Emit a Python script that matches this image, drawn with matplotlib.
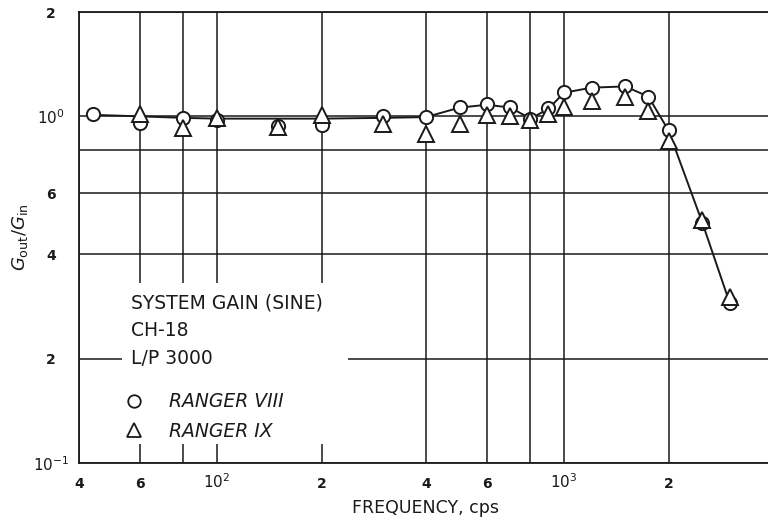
import matplotlib
matplotlib.use("Agg")
import matplotlib.pyplot as plt
from matplotlib.lines import Line2D
from matplotlib.patches import Rectangle
from matplotlib.ticker import NullFormatter

# ---------------------------------------------------------------
# Données
# ---------------------------------------------------------------

# Ranger VIII (cercles)
freq_r8 = [44, 60, 80, 100, 150, 200, 300, 400, 500, 600, 700, 800, 900,
           1000, 1200, 1500, 1750, 2000, 2500, 3000]
gain_r8 = [1.018, 0.954, 0.991, 0.975, 0.935, 0.942, 1.0, 0.995, 1.064, 1.083,
           1.064, 0.985, 1.059, 1.175, 1.21, 1.225, 1.137, 0.911, 0.491, 0.289]

# Ranger IX (triangles)
freq_r9 = [60, 80, 100, 150, 200, 300, 400, 500, 600, 700, 800, 900,
           1000, 1200, 1500, 1750, 2000, 2500, 3000]
gain_r9 = [1.016, 0.928, 0.987, 0.932, 1.007, 0.95, 0.887, 0.953, 1.007, 1.0,
           0.978, 1.013, 1.064, 1.105, 1.137, 1.036, 0.849, 0.502, 0.301]

# courbe moyenne tracée à la main sur l'original
freq_courbe = [44, 60, 80, 100, 150, 200, 300, 400, 500, 600, 700, 800, 900,
               1000, 1200, 1500, 1750, 2000, 2500, 3000]
gain_courbe = [1.01, 1.0, 0.99, 0.985, 0.985, 0.985, 0.99, 0.995, 1.06, 1.08,
               1.06, 0.985, 1.05, 1.17, 1.21, 1.22, 1.14, 0.91, 0.495, 0.29]

# graduations
x_ticks = [40, 60, 100, 200, 400, 600, 1000, 2000, 4000]
x_labels = ["4", "6", "$10^2$", "2", "4", "6", "$10^3$", "2", "4"]
x_minor = [80, 800]
y_ticks = [0.1, 0.2, 0.4, 0.6, 1.0, 2.0]
y_labels = ["$10^{-1}$", "2", "4", "6", "$10^0$", "2"]
y_minor = [0.8]

titre_bloc = ["SYSTEM GAIN (SINE)", "CH-18", "L/P 3000"]
noms_series = ["RANGER VIII", "RANGER IX"]

# ---------------------------------------------------------------
# Figure
# ---------------------------------------------------------------
encre = "#1a1a1a"
fig = plt.figure(figsize=(7.68, 5.19), dpi=100)
ax = fig.add_axes([79 / 768, 56 / 519, 694 / 768, 451 / 519])
ax.set_xscale("log")
ax.set_yscale("log")
ax.set_xlim(40, 4000)
ax.set_ylim(0.1, 2.0)
ax.set_axisbelow(True)

ax.set_xticks(x_ticks, x_labels)
ax.set_xticks(x_minor, minor=True)
ax.set_yticks(y_ticks, y_labels)
ax.set_yticks(y_minor, minor=True)
ax.xaxis.set_minor_formatter(NullFormatter())
ax.yaxis.set_minor_formatter(NullFormatter())
ax.tick_params(which="both", length=0, colors=encre, labelsize=10)
ax.tick_params(axis="x", pad=18)
ax.tick_params(axis="y", pad=20)
for lab in ax.get_xticklabels():
    lab.set_va("baseline")
    if "$" in lab.get_text():
        lab.set_fontsize(11)
    else:
        lab.set_fontweight("bold")
for lab in ax.get_yticklabels():
    lab.set_ha("center")
    if "$" in lab.get_text():
        lab.set_fontsize(11)
    else:
        lab.set_fontweight("bold")

ax.grid(True, which="both", color=encre, lw=1.1)
for sp in ax.spines.values():
    sp.set_color(encre)
    sp.set_linewidth(1.3)

# courbe + points
ax.plot(freq_courbe, gain_courbe, color=encre, lw=1.4, zorder=3)
ax.plot(freq_r8, gain_r8, ls="none", marker="o", ms=9.5, mfc="white",
        mec=encre, mew=1.4, zorder=4)
ax.plot(freq_r9, gain_r9, ls="none", marker="^", ms=11.5, mfc="white",
        mec=encre, mew=1.4, zorder=5)

# bloc de texte (fond blanc qui masque la grille)
ax.add_patch(Rectangle((0.062, 0.042), 0.326, 0.357, transform=ax.transAxes,
                       facecolor="white", edgecolor="none", zorder=1))
for i, ligne in enumerate(titre_bloc):
    ax.text(0.075, 0.355 - i * 0.062, ligne, transform=ax.transAxes,
            fontsize=13.5, color=encre, va="center", ha="left", zorder=6)

poignees = [
    Line2D([], [], ls="none", marker="o", ms=9, mfc="white", mec=encre, mew=1.3),
    Line2D([], [], ls="none", marker="^", ms=10, mfc="white", mec=encre, mew=1.3),
]
leg = ax.legend(poignees, noms_series, loc="upper left",
                bbox_to_anchor=(0.068, 0.157), frameon=False, fontsize=13.5,
                borderpad=0, borderaxespad=0, labelspacing=0.55,
                handlelength=0.8, handletextpad=1.5)
for t in leg.get_texts():
    t.set_style("italic")
    t.set_color(encre)

ax.set_xlabel("FREQUENCY, cps", fontsize=12.5, color=encre)
ax.xaxis.set_label_coords(0.5, -0.08)
ax.xaxis.label.set_va("top")
ax.set_ylabel(r"$G_{\rm out}/G_{\rm in}$", fontsize=13, color=encre)
ax.yaxis.set_label_coords(-0.07, 0.5)

fig.savefig("out.png", dpi=100)
